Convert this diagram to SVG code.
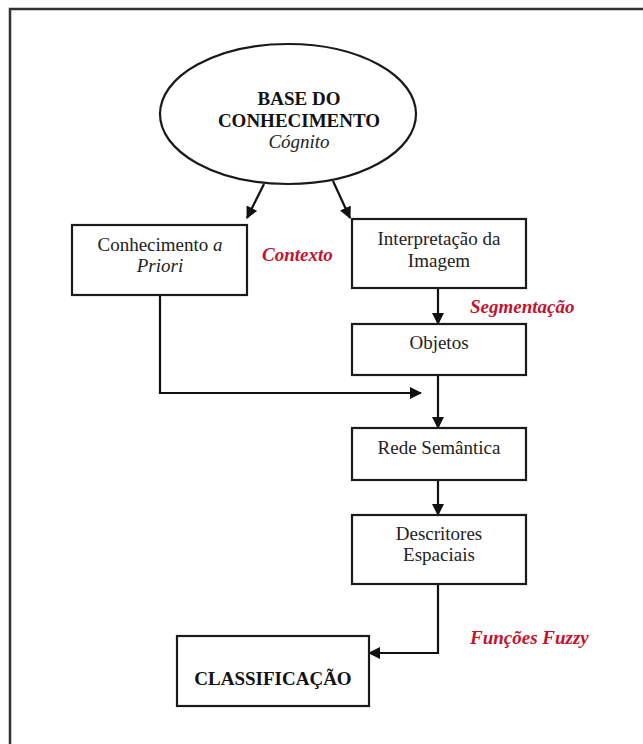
<svg xmlns="http://www.w3.org/2000/svg" width="643" height="744" viewBox="0 0 643 744">
<defs>
<style>
.frame{fill:none;stroke:#333;stroke-width:2.5}
.box{fill:#fff;stroke:#1a1a1a;stroke-width:2.2}
.conn{fill:none;stroke:#111;stroke-width:2.2}
.t{font-family:"Liberation Serif","Times New Roman",serif;font-size:19px;fill:#222;text-anchor:middle}
.b{font-weight:bold;fill:#111}
.i{font-style:italic}
.red{font-family:"Liberation Serif","Times New Roman",serif;font-size:19px;font-weight:bold;font-style:italic;fill:#c4122f}
</style>
<marker id="ah" markerUnits="userSpaceOnUse" markerWidth="12" markerHeight="12" refX="11" refY="6" orient="auto">
<path d="M0,0 L12,6 L0,12 z" fill="#111"/>
</marker>
</defs>
<rect width="643" height="744" fill="#fff"/>
<path class="frame" d="M10,744 L10,9 L643,9"/>
<g id="connectors">
<line class="conn" x1="264" y1="184" x2="247" y2="218" marker-end="url(#ah)"/>
<line class="conn" x1="333" y1="181" x2="350" y2="218" marker-end="url(#ah)"/>
<line class="conn" x1="438" y1="288" x2="438" y2="324" marker-end="url(#ah)"/>
<polyline class="conn" points="160,295 160,393 421,393" marker-end="url(#ah)"/>
<line class="conn" x1="438" y1="375" x2="438" y2="428" marker-end="url(#ah)"/>
<line class="conn" x1="438" y1="480" x2="438" y2="515" marker-end="url(#ah)"/>
<polyline class="conn" points="438,584 438,653 369,653" marker-end="url(#ah)"/>
</g>
<g id="base">
<ellipse class="box" cx="288" cy="114" rx="128" ry="70"/>
<text class="t b" x="299" y="105">BASE DO</text>
<text class="t b" x="299" y="127">CONHECIMENTO</text>
<text class="t i" x="299" y="148">Cógnito</text>
</g>
<g id="priori">
<rect class="box" x="72" y="225" width="175" height="70"/>
<text class="t" x="160" y="251">Conhecimento <tspan class="i">a</tspan></text>
<text class="t i" x="160" y="272">Priori</text>
</g>
<g id="interp">
<rect class="box" x="352" y="219" width="174" height="69"/>
<text class="t" x="439" y="245">Interpretação da</text>
<text class="t" x="439" y="267">Imagem</text>
</g>
<g id="objetos">
<rect class="box" x="352" y="324" width="174" height="51"/>
<text class="t" x="439" y="349">Objetos</text>
</g>
<g id="rede">
<rect class="box" x="352" y="428" width="174" height="52"/>
<text class="t" x="439" y="454">Rede Semântica</text>
</g>
<g id="descritores">
<rect class="box" x="352" y="515" width="174" height="69"/>
<text class="t" x="439" y="540">Descritores</text>
<text class="t" x="439" y="561">Espaciais</text>
</g>
<g id="classificacao">
<rect class="box" x="177" y="636" width="192" height="70"/>
<text class="t b" x="273" y="685">CLASSIFICAÇÃO</text>
</g>
<g id="labels">
<text class="red" x="262" y="261">Contexto</text>
<text class="red" x="470" y="313">Segmentação</text>
<text class="red" x="470" y="644">Funções Fuzzy</text>
</g>
</svg>
